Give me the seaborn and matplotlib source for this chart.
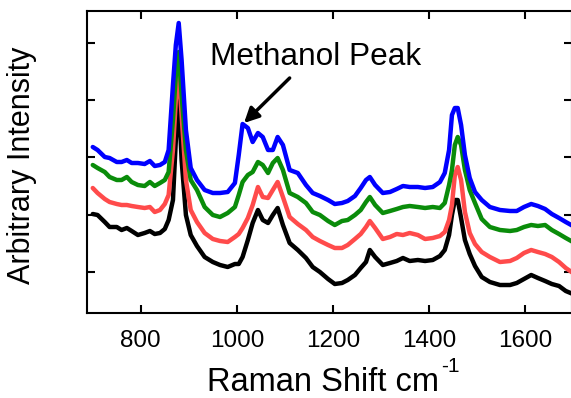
import numpy as np
import pandas as pd
import matplotlib
matplotlib.use("Agg")
import matplotlib.pyplot as plt
import seaborn as sns

# Raman shift (cm^-1)
raman_shift = [700, 710, 725, 735, 750, 760, 771, 781, 794, 808,
               819, 829, 840, 850, 858, 867, 873, 879, 885, 894,
               904, 917, 933, 950, 965, 981, 996, 1004, 1012, 1023,
               1033, 1044, 1054, 1065, 1075, 1085, 1096, 1110, 1127, 1144,
               1158, 1173, 1190, 1204, 1219, 1231, 1246, 1258, 1269, 1277,
               1288, 1304, 1319, 1333, 1346, 1360, 1377, 1392, 1408, 1423,
               1433, 1442, 1448, 1454, 1460, 1467, 1475, 1485, 1496, 1510,
               1527, 1548, 1569, 1583, 1598, 1613, 1627, 1642, 1656, 1671,
               1685, 1700]

# Intensities (arbitrary units, spectra offset)
blue_series = [153, 150, 143, 142, 138, 138, 140, 137, 137, 136,
               139, 134, 135, 138, 150, 215, 255, 277, 240, 170,
               132, 120, 110, 107, 107, 108, 117, 145, 176, 172,
               158, 167, 163, 150, 150, 163, 155, 130, 127, 115,
               107, 104, 100, 96, 97, 99, 104, 112, 120, 123,
               115, 107, 108, 111, 114, 113, 113, 112, 113, 118,
               127, 150, 185, 192, 192, 175, 145, 122, 108, 100,
               93, 90, 89, 89, 93, 96, 94, 91, 86, 82,
               78, 74]
green_series = [135, 132, 128, 123, 120, 120, 123, 118, 115, 114,
                118, 114, 117, 120, 128, 180, 225, 248, 205, 150,
                120, 110, 93, 85, 83, 87, 93, 105, 118, 125,
                128, 138, 135, 127, 137, 142, 130, 107, 103, 97,
                88, 85, 79, 75, 79, 80, 85, 90, 98, 103,
                95, 87, 89, 91, 93, 94, 93, 92, 93, 92,
                97, 115, 130, 155, 163, 155, 130, 110, 97, 81,
                73, 70, 69, 70, 73, 75, 74, 75, 70, 66,
                62, 58]
red_series = [112, 107, 101, 98, 96, 95, 95, 94, 93, 92,
              93, 88, 90, 96, 105, 150, 200, 228, 185, 120,
              90, 78, 67, 61, 59, 58, 63, 66, 72, 82,
              95, 113, 103, 102, 110, 118, 103, 83, 76, 70,
              63, 59, 55, 52, 52, 55, 61, 66, 73, 79,
              72, 61, 63, 66, 65, 67, 65, 61, 62, 64,
              68, 80, 95, 125, 133, 120, 88, 67, 56, 48,
              43, 38, 39, 42, 47, 50, 48, 46, 43, 38,
              32, 27]
black_series = [86, 85, 78, 73, 73, 70, 72, 69, 65, 67,
                69, 66, 67, 71, 80, 100, 160, 203, 140, 85,
                65, 54, 43, 38, 35, 33, 36, 36, 43, 60,
                77, 90, 80, 77, 85, 92, 75, 57, 50, 42,
                33, 28, 21, 16, 17, 20, 25, 32, 38, 50,
                43, 35, 37, 39, 42, 39, 40, 39, 40, 44,
                50, 65, 85, 100, 100, 82, 60, 46, 34, 23,
                18, 15, 15, 17, 21, 25, 22, 19, 16, 14,
                9, 6]

series_names = ["black", "red", "green", "blue"]
series_colors = ["#000000", "#ff4b4b", "#0a8c0a", "#0000ff"]
y_tick_values = [28, 85, 143, 200, 257]
x_tick_values = [800, 1000, 1200, 1400, 1600]

frames = []
for name, vals in zip(series_names, [black_series, red_series, green_series, blue_series]):
    frames.append(pd.DataFrame({"shift": raman_shift, "intensity": vals, "series": name}))
df = pd.concat(frames, ignore_index=True)

sns.set_theme(style="ticks")
plt.rcParams["font.family"] = ["Liberation Sans", "DejaVu Sans"]

fig = plt.figure(figsize=(5.71, 3.98), dpi=100)
ax = fig.add_axes([87 / 571, 1 - 313 / 398, (572 - 87) / 571, (313 - 11) / 398])

sns.lineplot(data=df, x="shift", y="intensity", hue="series", hue_order=series_names,
             palette=dict(zip(series_names, series_colors)), linewidth=3.2,
             legend=False, ax=ax, sort=False)

ax.set_xlim(688, 1698)
ax.set_ylim(-13, 289)
ax.set_xticks(x_tick_values)
ax.set_yticks(y_tick_values)
ax.set_yticklabels([])
ax.tick_params(axis="both", which="major", direction="in", length=6, width=1.5,
               top=True, right=True, labelsize=17.5, colors="black", pad=12.5)
for s in ax.spines.values():
    s.set_linewidth(1.5)
    s.set_color("black")
    s.set_visible(True)

ax.set_xlabel("Raman Shift cm", fontsize=23.5, color="black")
ax.xaxis.set_label_coords(0.487, -0.178)
ax.xaxis.label.set_verticalalignment("top")
ax.set_ylabel("Arbitrary Intensity", fontsize=22, color="black")
ax.yaxis.set_label_coords(-0.134, 0.49)
ax.yaxis.label.set_verticalalignment("center")

ax.text(944, 235, "Methanol Peak", fontsize=22.8, color="black", ha="left", va="baseline")
ax.annotate("", xy=(1015, 177), xytext=(1110, 222),
            arrowprops=dict(arrowstyle="-|>", color="black", lw=2.5, mutation_scale=22,
                            shrinkA=0, shrinkB=0))

# superscript "-1" right after the axis label
fig.canvas.draw()
bb = ax.xaxis.label.get_window_extent(fig.canvas.get_renderer())
fig.text((bb.x1 + 2) / fig.bbox.width, (bb.y1 + 0) / fig.bbox.height, "-1",
         fontsize=15, color="black", ha="left", va="center")

fig.savefig("out.png", dpi=100)
